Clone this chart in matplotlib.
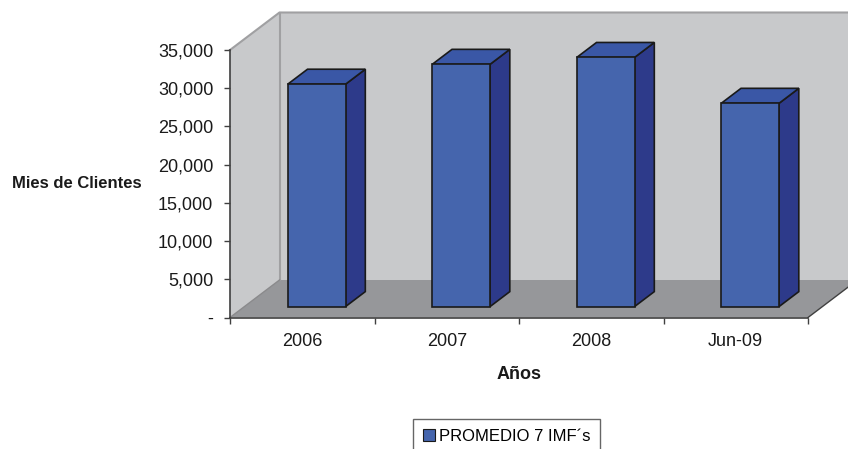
import matplotlib.pyplot as plt
from matplotlib.patches import Polygon, Patch

plt.rcParams['font.family'] = ['Liberation Sans', 'DejaVu Sans']

# Data
categories = ['2006', '2007', '2008', 'Jun-09']
clientes = [29100, 31700, 32600, 26600]
yticks = [0, 5000, 10000, 15000, 20000, 25000, 30000, 35000]
ytick_labels = ['-' if t == 0 else f'{t:,}' for t in yticks]
serie = 'PROMEDIO 7 IMF´s'

# colours of the 3D look
front_col = '#4565ad'
side_col = '#2d3a8a'
top_col = '#3a57a6'
wall_col = '#c8c9cb'
floor_col = '#96979a'
wall_edge = '#a0a0a2'
axis_col = '#404040'

fig = plt.figure(figsize=(8.48, 4.49), dpi=100)
ax = fig.add_axes([230 / 848, (449 - 317.5) / 449, 578 / 848, 267.5 / 449])
ymax = 35000
ax.set_xlim(0, len(categories))
ax.set_ylim(0, ymax)

# depth offset of the oblique projection, in data units
ddx = 49.5 / 144.5
ddy = 37.5 / 267.5 * ymax


def proj(x, y, z):
    return (x + z * ddx, y + z * ddy)


def face(pts, color, ec, lw, zorder):
    ax.add_patch(Polygon(pts, closed=True, facecolor=color, edgecolor=ec,
                         linewidth=lw, clip_on=False, zorder=zorder,
                         joinstyle='miter'))


n = len(categories)
xext = n + 0.5
# back wall, left wall, floor
face([proj(0, 0, 1), proj(xext, 0, 1), proj(xext, ymax, 1), proj(0, ymax, 1)],
     wall_col, 'none', 0, 0)
face([proj(0, 0, 0), proj(0, 0, 1), proj(0, ymax, 1), proj(0, ymax, 0)],
     wall_col, 'none', 0, 0)
face([proj(0, 0, 0), proj(n, 0, 0), proj(n, 0, 1), proj(0, 0, 1)],
     floor_col, 'none', 0, 0.5)
# wall edges
for pts in ([proj(0, ymax, 0), proj(0, ymax, 1), proj(xext, ymax, 1)],
            [proj(0, 0, 1), proj(0, ymax, 1)]):
    xs, ys = zip(*pts)
    ax.plot(xs, ys, color=wall_edge, lw=1.5, clip_on=False, zorder=0.6)
xs, ys = zip(proj(0, 0, 0), proj(0, 0, 1))
ax.plot(xs, ys, color='#8a8a8c', lw=1, clip_on=False, zorder=0.6)
xs, ys = zip(proj(n, 0, 0), proj(n, 0, 1))
ax.plot(xs, ys, color=axis_col, lw=1, clip_on=False, zorder=0.6)

# 3D columns
bw = 0.4
z0, z1 = 0.29, 0.69
for i, v in enumerate(clientes):
    x0 = i + 0.5 - bw / 2
    x1 = i + 0.5 + bw / 2
    face([proj(x0, 0, z0), proj(x1, 0, z0), proj(x1, v, z0), proj(x0, v, z0)],
         front_col, '#1a1a1a', 1.2, 3)
    face([proj(x1, 0, z0), proj(x1, 0, z1), proj(x1, v, z1), proj(x1, v, z0)],
         side_col, '#1a1a1a', 1.2, 2)
    face([proj(x0, v, z0), proj(x1, v, z0), proj(x1, v, z1), proj(x0, v, z1)],
         top_col, '#1a1a1a', 1.2, 2)

# axes
for s in ['top', 'right']:
    ax.spines[s].set_visible(False)
for s in ['left', 'bottom']:
    ax.spines[s].set_color(axis_col)
    ax.spines[s].set_linewidth(1.2)
    ax.spines[s].set_zorder(4)
ax.patch.set_visible(False)

ax.set_yticks(yticks)
ax.set_yticklabels(ytick_labels)
ax.set_xticks(range(n + 1))
ax.set_xticklabels([])
ax.set_xticks([i + 0.5 for i in range(n)], minor=True)
ax.set_xticklabels(categories, minor=True)
ax.tick_params(axis='y', length=4, width=1, color=axis_col, labelsize=13,
               pad=8, labelcolor='#1a1a1a')
ax.tick_params(axis='x', which='major', length=4, width=1, color=axis_col)
ax.tick_params(axis='x', which='minor', length=0, labelsize=13, pad=11,
               labelcolor='#1a1a1a')

ax.set_xlabel('Años', fontsize=13, fontweight='bold', labelpad=12,
              color='#1a1a1a')
fig.text(12 / 848, 1 - 184 / 449, 'Mies de Clientes', fontsize=12,
         fontweight='bold', ha='left', va='center', color='#1a1a1a')

leg = fig.legend(handles=[Patch(facecolor=front_col, edgecolor='#1a1a1a',
                                linewidth=0.8, label=serie)],
                 loc='upper left', bbox_to_anchor=(413 / 848, 1 - 419 / 449),
                 fontsize=12, frameon=True, fancybox=False, borderpad=0.6,
                 handlelength=0.7, handleheight=0.7, handletextpad=0.25,
                 borderaxespad=0)
leg.get_frame().set_edgecolor('#404040')
leg.get_frame().set_linewidth(1)

fig.savefig('out.png', dpi=100)
